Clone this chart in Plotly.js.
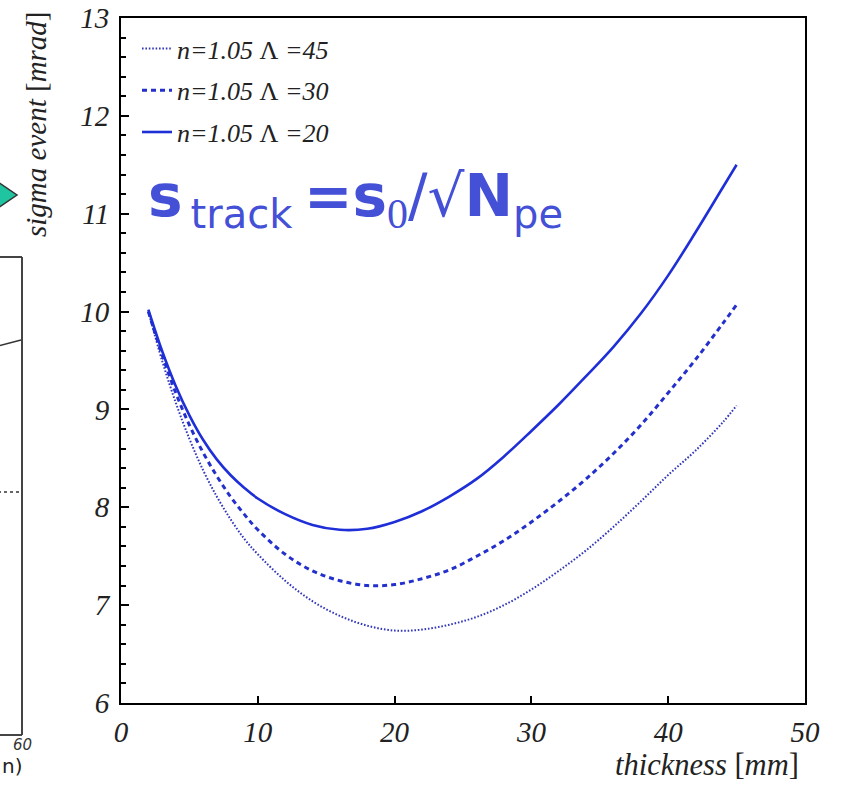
<!DOCTYPE html>
<html><head><meta charset="utf-8">
<script src="https://cdn.plot.ly/plotly-3.0.1.min.js"></script>
<style>html,body{margin:0;padding:0;background:#fff}</style>
</head><body><div id="chart" style="width:843px;height:786px"></div>
<script>
// ---- data ----
const thickness = [2, 3, 4, 5, 6, 7, 8, 9, 10, 12, 14, 16, 18, 20, 22, 24, 26, 28, 30, 32, 34, 36, 38, 40, 42, 44, 45];
const sigmaL45 = [10.00, 9.50, 9.07, 8.70, 8.38, 8.11, 7.88, 7.68, 7.52, 7.25, 7.04, 6.89, 6.79, 6.74, 6.75, 6.80, 6.88, 7.00, 7.16, 7.35, 7.56, 7.80, 8.06, 8.33, 8.58, 8.87, 9.04];
const sigmaL30 = [10.00, 9.56, 9.17, 8.84, 8.56, 8.32, 8.11, 7.93, 7.77, 7.52, 7.35, 7.25, 7.20, 7.21, 7.27, 7.36, 7.50, 7.66, 7.85, 8.06, 8.29, 8.55, 8.84, 9.17, 9.51, 9.88, 10.07];
const sigmaL20 = [10.02, 9.60, 9.24, 8.94, 8.69, 8.49, 8.33, 8.20, 8.09, 7.93, 7.82, 7.77, 7.78, 7.85, 7.96, 8.11, 8.29, 8.52, 8.78, 9.05, 9.34, 9.64, 9.98, 10.37, 10.81, 11.27, 11.50];
const seriesNames = ['n=1.05 \u039B =45', 'n=1.05 \u039B =30', 'n=1.05 \u039B =20'];
const xTickVals = [0, 10, 20, 30, 40, 50];
const yTickVals = [6, 7, 8, 9, 10, 11, 12, 13];

// ---- layout helpers (pixel -> paper) ----
const L = 121, R = 805, T = 18, B = 703;
const px = v => (v - L) / (R - L);
const py = v => (B - v) / (B - T);

const serif = 'Liberation Serif, Times New Roman, serif';
const sans = 'DejaVu Sans, Verdana, sans-serif';
const upright = s => s.replace('\u039B', '<span style="font-style:normal">\u039B</span>');

const traces = [
  {x: thickness, y: sigmaL45, name: upright(seriesNames[0]), legendgroup: 'a', mode: 'lines',
   line: {color: '#3338b8', width: 2, dash: '1.6px,1.8px', shape: 'spline', smoothing: 1}},
  {x: thickness, y: sigmaL30, name: upright(seriesNames[1]), legendgroup: 'b', mode: 'lines',
   line: {color: '#2430cc', width: 3, dash: '5px,4px', shape: 'spline', smoothing: 1}},
  {x: thickness, y: sigmaL20, name: upright(seriesNames[2]), legendgroup: 'c', mode: 'lines',
   line: {color: '#1f2fd8', width: 2.6, shape: 'spline', smoothing: 1}}
];

const tickFont = {family: serif, size: 29, color: '#222'};
const it = v => '<i>' + v + '</i>';

const frag = '#444';
const layout = {
  width: 843, height: 786,
  margin: {l: L, r: 843 - R, t: T, b: 786 - B},
  paper_bgcolor: '#fff', plot_bgcolor: '#fff',
  showlegend: true,
  legend: {x: px(137), y: py(25), xanchor: 'left', yanchor: 'top',
           bgcolor: 'rgba(0,0,0,0)', traceorder: 'grouped', tracegroupgap: 5,
           itemwidth: 30,
           font: {family: serif, size: 26, style: 'italic', color: '#222'}},
  xaxis: {range: [0, 50], tickvals: xTickVals, ticktext: xTickVals.map(it),
          ticks: 'inside', ticklen: 7, tickwidth: 2,
          tickcolor: '#000', showline: true, linecolor: '#000', linewidth: 2, mirror: true,
          showgrid: false, zeroline: false, tickfont: tickFont, ticklabelstandoff: 2},
  yaxis: {range: [6, 13], tickvals: yTickVals, ticktext: yTickVals.map(it),
          ticks: 'inside', ticklen: 8, tickwidth: 2,
          tickcolor: '#000', showline: true, linecolor: '#000', linewidth: 2, mirror: true,
          showgrid: false, zeroline: false, tickfont: tickFont, ticklabelstandoff: 4,
          minor: {dtick: 0.2, ticks: 'inside', ticklen: 5, tickwidth: 2, tickcolor: '#000', showgrid: false}},
  annotations: [
    {xref: 'paper', yref: 'paper', x: px(36), y: py(124), xanchor: 'center', yanchor: 'middle',
     textangle: -90, showarrow: false,
     text: '<i>sigma event</i> [<i>mrad</i>]', font: {family: serif, size: 29, color: '#222'}},
    {xref: 'paper', yref: 'paper', x: px(801), y: py(765), xanchor: 'right', yanchor: 'middle',
     showarrow: false,
     text: '<i>thickness</i> [<i>mm</i>]', font: {family: serif, size: 30.5, color: '#222'}},
    {xref: 'paper', yref: 'paper', x: px(146), y: py(199), xanchor: 'left', yanchor: 'middle',
     showarrow: false,
     text: '<b>s</b><sub><span style="font-size:40px">\u2009track</span></sub>\u2009<b>=s</b><sub><span style="font-family:Liberation Serif;font-size:42px">0</span></sub>/\u221A<b>N</b><sub><span style="font-size:40px">pe</span></sub>',
     font: {family: sans, size: 58, color: '#4450d6'}},
    {xref: 'paper', yref: 'paper', x: px(22), y: py(745), xanchor: 'center', yanchor: 'middle',
     showarrow: false, text: '<i>60</i>', font: {family: sans, size: 15, color: '#333'}},
    {xref: 'paper', yref: 'paper', x: px(0), y: py(766), xanchor: 'left', yanchor: 'middle',
     showarrow: false, text: 'n)', font: {family: sans, size: 20, color: '#222'}}
  ],
  shapes: [
    {type: 'line', xref: 'paper', yref: 'paper', x0: px(22), x1: px(22), y0: py(257), y1: py(735), line: {color: frag, width: 2}},
    {type: 'line', xref: 'paper', yref: 'paper', x0: px(-2), x1: px(22), y0: py(257), y1: py(257), line: {color: frag, width: 2}},
    {type: 'line', xref: 'paper', yref: 'paper', x0: px(-2), x1: px(22), y0: py(735), y1: py(735), line: {color: frag, width: 2}},
    {type: 'line', xref: 'paper', yref: 'paper', x0: px(-2), x1: px(21), y0: py(346), y1: py(340), line: {color: '#333', width: 1.5}},
    {type: 'line', xref: 'paper', yref: 'paper', x0: px(-2), x1: px(20), y0: py(492), y1: py(492), line: {color: '#333', width: 1.5, dash: 'dot'}},
    {type: 'path', xref: 'paper', yref: 'paper',
     path: `M${px(-2)},${py(182)} L${px(17)},${py(195)} L${px(-2)},${py(208)} Z`,
     fillcolor: '#1fc4a0', line: {color: '#333', width: 1.5}}
  ]
};

Plotly.newPlot('chart', traces, layout, {displayModeBar: false, staticPlot: true});
</script>
</body></html>
